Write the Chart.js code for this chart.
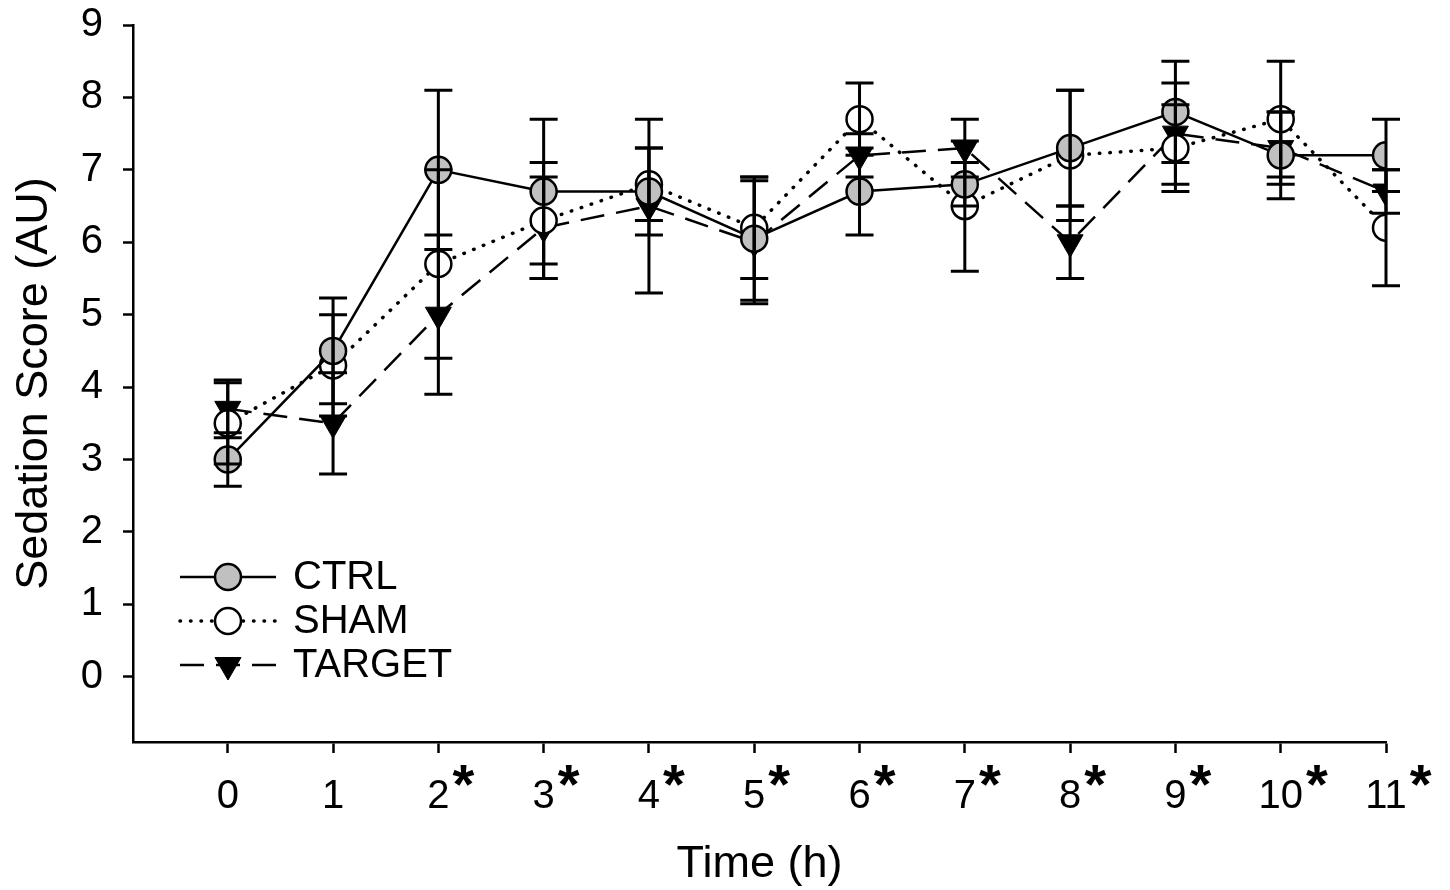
<!DOCTYPE html>
<html>
<head>
<meta charset="utf-8">
<script src="https://cdn.jsdelivr.net/npm/chart.js@4.4.0/dist/chart.umd.min.js"></script>
<style>
html, body { margin: 0; padding: 0; background: #fff; }
#wrap { width: 1450px; height: 890px; }
</style>
</head>
<body>
<div id="wrap"><canvas id="myChart" width="1450" height="890"></canvas></div>
<script>
// data (mean +/- error)
var hours = [0, 1, 2, 3, 4, 5, 6, 7, 8, 9, 10, 11];
var sigHours = [2, 3, 4, 5, 6, 7, 8, 9, 10, 11];
var yTicks = [0, 1, 2, 3, 4, 5, 6, 7, 8, 9];

var ctrlMean = [3.0, 4.5, 7.0, 6.7, 6.7, 6.05, 6.7, 6.8, 7.3, 7.8, 7.2, 7.2];
var ctrlErr = [0.37, 0.73, 1.1, 1.0, 0.6, 0.85, 0.6, 0.3, 0.8, 0.7, 0.6, 0.5];
var shamMean = [3.5, 4.3, 5.7, 6.3, 6.8, 6.2, 7.7, 6.5, 7.2, 7.3, 7.7, 6.2];
var shamErr = [0.56, 0.7, 1.3, 0.8, 0.5, 0.7, 0.5, 0.9, 0.9, 0.6, 0.8, 0.8];
var targetMean = [3.7, 3.5, 5.0, 6.2, 6.5, 6.0, 7.2, 7.3, 6.0, 7.5, 7.3, 6.7];
var targetErr = [0.4, 0.7, 1.1, 0.7, 1.2, 0.85, 0.3, 0.4, 0.5, 0.7, 0.5, 0.3];

var FONT = "'Liberation Sans', Arial, sans-serif";
var TICK_SIZE = 40;
var XPAD = 20;

function pts(arr) {
	return hours.map(function (h, i) { return { x: h, y: arr[i] }; });
}

function noPad(s) {
	s.paddingTop = 0; s.paddingBottom = 0; s.paddingLeft = 0; s.paddingRight = 0;
}

var errBars = [ctrlErr, shamErr, targetErr];

// vertical error bars with caps, drawn on top of the markers
var errorBarPlugin = {
	id: 'errorBars',
	afterDatasetsDraw: function (chart) {
		var ctx = chart.ctx;
		var xs = chart.scales.x, ys = chart.scales.y;
		ctx.save();
		ctx.strokeStyle = '#000';
		ctx.lineWidth = 3;
		chart.data.datasets.forEach(function (ds, di) {
			var err = errBars[di];
			ds.data.forEach(function (p, i) {
				var px = xs.getPixelForValue(p.x);
				var top = ys.getPixelForValue(p.y + err[i]);
				var bot = ys.getPixelForValue(p.y - err[i]);
				ctx.beginPath();
				ctx.moveTo(px, top); ctx.lineTo(px, bot);
				ctx.moveTo(px - 14, top); ctx.lineTo(px + 14, top);
				ctx.moveTo(px - 14, bot); ctx.lineTo(px + 14, bot);
				ctx.stroke();
			});
		});
		ctx.restore();
	}
};

// legend inside the plot, bottom left
var legendPlugin = {
	id: 'insideLegend',
	afterDraw: function (chart) {
		var ctx = chart.ctx;
		var a = chart.chartArea;
		ctx.save();
		chart.data.datasets.forEach(function (ds, i) {
			var y = a.bottom - 165 + i * 44;
			var x0 = a.left + 47, x1 = a.left + 143, xm = a.left + 95;
			ctx.strokeStyle = '#000';
			ctx.lineWidth = ds.borderWidth;
			ctx.lineCap = ds.borderCapStyle || 'butt';
			ctx.setLineDash(ds.borderDash || []);
			ctx.beginPath();
			ctx.moveTo(x0, y); ctx.lineTo(x1, y);
			ctx.stroke();
			ctx.setLineDash([]);
			ctx.fillStyle = ds.pointBackgroundColor;
			ctx.strokeStyle = ds.pointBorderColor;
			ctx.lineWidth = ds.pointBorderWidth;
			Chart.helpers.drawPoint(ctx, {
				pointStyle: ds.pointStyle,
				rotation: ds.pointRotation || 0,
				radius: ds.pointRadius,
				borderWidth: ds.pointBorderWidth
			}, xm, y);
			ctx.fillStyle = '#000';
			ctx.font = TICK_SIZE + 'px ' + FONT;
			ctx.textBaseline = 'middle';
			ctx.textAlign = 'left';
			ctx.fillText(ds.label, a.left + 160, y + 1);
		});
		ctx.restore();
	}
};

// bold asterisks next to significant hours
var starPlugin = {
	id: 'stars',
	afterDraw: function (chart) {
		var ctx = chart.ctx;
		var xs = chart.scales.x;
		ctx.save();
		ctx.font = TICK_SIZE + 'px ' + FONT;
		var base = xs.top + 11 + XPAD + TICK_SIZE * 0.905;
		sigHours.forEach(function (h) {
			var px = xs.getPixelForValue(h);
			var w = ctx.measureText(String(h)).width;
			ctx.save();
			ctx.font = 'bold 56px ' + FONT;
			ctx.fillStyle = '#000';
			ctx.textAlign = 'left';
			ctx.textBaseline = 'alphabetic';
			ctx.fillText('*', px + w / 2 + 3, base - 6);
			ctx.restore();
		});
		ctx.restore();
	}
};

new Chart('myChart', {
	type: 'line',
	data: {
		datasets: [{
			label: 'CTRL',
			data: pts(ctrlMean),
			borderColor: '#000',
			borderWidth: 2.5,
			pointStyle: 'circle',
			pointRadius: 13,
			pointBackgroundColor: '#c0c0c0',
			pointBorderColor: '#000',
			pointBorderWidth: 2.5
		}, {
			label: 'SHAM',
			data: pts(shamMean),
			borderColor: '#000',
			borderWidth: 3.5,
			borderDash: [0.5, 10],
			borderCapStyle: 'round',
			pointStyle: 'circle',
			pointRadius: 13,
			pointBackgroundColor: '#fff',
			pointBorderColor: '#000',
			pointBorderWidth: 2.5
		}, {
			label: 'TARGET',
			data: pts(targetMean),
			borderColor: '#000',
			borderWidth: 2.5,
			borderDash: [24, 12],
			pointStyle: 'triangle',
			pointRotation: 180,
			pointRadius: 15,
			pointBackgroundColor: '#000',
			pointBorderColor: '#000',
			pointBorderWidth: 1
		}]
	},
	options: {
		responsive: false,
		animation: false,
		devicePixelRatio: 1,
		layout: { padding: { left: 0, right: 64, top: 25, bottom: 0 } },
		plugins: {
			legend: { display: false },
			tooltip: { enabled: false }
		},
		scales: {
			x: {
				type: 'linear',
				min: -0.9,
				max: 11,
				afterBuildTicks: function (s) { s.ticks = hours.map(function (v) { return { value: v }; }); },
				afterFit: function (s) { s.height = 148; noPad(s); },
				grid: { display: true, drawOnChartArea: false, drawTicks: true, tickLength: 11, tickWidth: 2.5, color: '#000' },
				border: { display: true, color: '#000', width: 2.5 },
				ticks: {
					autoSkip: false, maxRotation: 0, padding: XPAD, color: '#000',
					font: { family: FONT, size: TICK_SIZE }
				},
				title: {
					display: true, text: 'Time (h)', color: '#000',
					font: { family: FONT, size: 45, lineHeight: 1 },
					padding: { top: 0, bottom: 3 }
				}
			},
			y: {
				min: -0.9,
				max: 9,
				afterBuildTicks: function (s) { s.ticks = yTicks.map(function (v) { return { value: v }; }); },
				afterFit: function (s) { s.width = 133; noPad(s); },
				grid: { display: true, drawOnChartArea: false, drawTicks: true, tickLength: 10, tickWidth: 2.5, color: '#000' },
				border: { display: true, color: '#000', width: 2.5 },
				ticks: {
					padding: 20, color: '#000',
					font: { family: FONT, size: TICK_SIZE }
				},
				title: {
					display: true, text: 'Sedation Score (AU)', color: '#000',
					font: { family: FONT, size: 45, lineHeight: 1 },
					padding: { top: 12, bottom: 0 }
				}
			}
		}
	},
	plugins: [errorBarPlugin, legendPlugin, starPlugin]
});
</script>
</body>
</html>
